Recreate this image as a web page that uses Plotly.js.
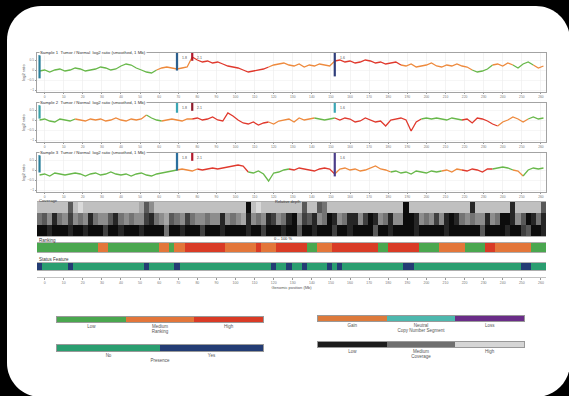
<!DOCTYPE html>
<html><head><meta charset="utf-8">
<script src="https://cdn.plot.ly/plotly-3.0.1.min.js"></script>
<style>html,body{margin:0;padding:0;background:#000;overflow:hidden;width:569px;height:396px;}#chart{width:569px;height:396px;}</style>
</head><body><div id="chart"></div>
<script>
// ---------------- DATA ----------------
const panelTitles = [
  'Sample 1  Tumor / Normal  log2 ratio (smoothed, 1 Mb)',
  'Sample 2  Tumor / Normal  log2 ratio (smoothed, 1 Mb)',
  'Sample 3  Tumor / Normal  log2 ratio (smoothed, 1 Mb)'
];
const tickLabels = ['0','10','20','30','40','50','60','70','80','90','100','110','120','130','140','150','160','170','180','190','200','210','220','230','240','250','260'];

const panel1 = [-0.05,0,-0.1,0,0.05,-0.05,0,0.1,0.05,-0.05,0,0.05,0.15,0.1,0,0.05,0.2,0.3,0.25,0.1,0,-0.1,-0.15,
  0,0.1,0.15,0.1,0.05,0.1,0.15,
  0.65,0.5,0.4,0.45,0.35,0.4,0.3,
  0.2,0.15,0.1,0,-0.1,-0.05,0,0.05,
  0.15,0.25,0.3,0.35,
  0.25,0.2,0.3,0.15,0.25,0.2,0.3,0.25,0.2,
  0.45,0.5,0.4,0.45,0.35,0.4,0.5,0.45,0.35,0.4,0.3,0.35,0.4,
  0.25,0.2,0.3,0.15,0.2,0.25,0.35,0.2,0.15,0.25,0.2,0.3,0.2,0.15,
  0,-0.1,-0.05,0.05,
  0.25,0.3,0.2,0.35,0.25,0.1,0.3,0.4,0.25,0.1,0.2];
const panel1Classes = [[0,0],[23,1],[30,2],[45,1],[58,2],[71,1],[85,0],[89,1],[93,0],[97,1]];

const panel2 = [0,0.05,-0.05,-0.1,0.05,0,-0.05,
  0.05,0,-0.05,0.05,0,0.05,-0.05,0,0.1,0,-0.05,0.05,0,0.05,
  0.25,0.1,0,
  -0.05,0,0.05,0,-0.05,0.05,
  0.05,0.1,0,0.05,0.15,0,-0.05,0.35,0.2,0,-0.15,-0.2,-0.1,-0.25,-0.15,
  -0.1,-0.2,-0.05,0,0.05,-0.1,0.1,0,0.05,
  0.1,0.05,0,0.05,
  0.1,0,0.1,0.05,-0.1,-0.05,0.1,0,-0.1,-0.05,-0.3,
  0,0.05,0.1,0,-0.55,-0.1,
  0.05,0.1,0.05,0.1,0.05,0,0.1,0.05,
  0,0.05,-0.15,0.1,0.05,-0.05,-0.2,-0.3,-0.1,0,0.15,0.05,-0.1,
  0.05,0.15,0.05,0.1];
const panel2Classes = [[0,0],[7,1],[21,0],[24,1],[30,2],[45,1],[54,0],[58,2],[75,0],[83,2],[90,1],[96,0]];

const panel3 = [-0.25,-0.2,-0.3,-0.15,-0.2,-0.25,-0.2,-0.15,-0.2,-0.3,-0.2,-0.15,-0.25,-0.2,-0.1,-0.2,-0.25,-0.2,-0.3,-0.2,-0.15,-0.25,-0.3,-0.2,-0.15,-0.1,-0.05,
  0,0.05,0,-0.05,0.05,0,0.05,0.1,0.05,0.1,
  0.15,0.2,0.25,0.2,
  -0.1,-0.15,-0.05,-0.2,-0.55,-0.15,-0.1,0,
  0.05,0,0.1,0.05,0,-0.05,0.05,0.1,0.05,
  -0.2,
  0.05,0.1,0,0.05,-0.05,0,0.1,0.2,0.05,0,
  -0.1,-0.05,-0.15,-0.1,-0.2,-0.05,-0.1,-0.15,-0.05,-0.1,
  -0.05,0,-0.1,0.05,0,-0.05,0.05,0,-0.1,0.05,
  0.05,0.1,0.15,0.1,0,-0.05,-0.3,0,0.1,0.05,0.1];
const panel3Classes = [[0,0],[27,1],[31,2],[41,0],[49,2],[58,1],[69,0],[79,1],[83,2],[89,0],[93,1],[95,0]];

const breakpointBins = [0,27,30,58];

const coverageTop = [2,2,2,2,2,2,6,2,1,2, 2,2,2,2,2,2,2,2,2,2, 3,6,4,2,2,2,2,2,2,2, 2,2,2,2,2,2,2,2,2,2,
  2,9,2,1,2,2,2,2,2,2, 2,2,6,2,2,6,5,2,2,2, 2,2,2,2,2,2,2,2,2,2, 2,2,9,2,2,2,2,2,2,2,
  2,2,2,2,2,8,2,2,2,2, 2,2,2,8,2,2,2,2,2,6];
const coverageMid = [5,6,4,8,5,4,7,4,5,4, 8,5,4,4,6,8,5,4,5,4, 4,7,8,5,4,3,6,5,4,7, 5,4,4,5,4,4,8,4,5,4,
  3,8,4,5,4,8,7,4,5,8, 9,4,7,6,8,4,5,9,8,4, 5,8,8,4,7,9,8,4,5,8, 4,4,9,9,8,4,5,4,7,4,
  8,9,8,5,4,5,4,4,8,4, 5,9,9,8,4,6,9,8,5,8];
const coverageBot = [9,9,8,9,9,9,8,9,9,8, 9,9,9,7,9,9,8,9,9,9, 8,9,9,9,9,5,9,9,8,9, 9,9,7,9,9,9,8,9,9,9,
  9,8,9,9,7,9,9,9,8,9, 9,6,9,9,8,9,9,9,7,9, 9,8,9,9,9,9,6,9,9,8, 9,9,9,9,8,9,9,9,9,9,
  8,9,9,9,9,9,9,6,9,9, 9,9,8,9,9,7,6,9,9,8];

const ranking = [0,0,0,0,0,0,0,0,0,0,0,0, 1,1, 0,0,0,0,0,0,0,0,0,0, 1,1, 0, 1,1,
  2,2,2,2,2,2,2,2, 1,1,1,1,1,1, 2, 1,1,1, 2,2,2,2,2,2, 0,0, 1,1,1,
  2,2,2,2,2,2,2,2,2, 0,0, 2,2,2,2,2,2, 0,0,0,0, 1,1,1,1,1, 0,0,0,0, 2,2, 1,1,1,1,1,1,1, 0,0,0];
const status = [1,0,0,0,0,0,1,0,0,0, 0,0,0,0,0,0,0,0,0,0, 0,1,0,0,0,0,0,1,0,0, 0,0,0,0,0,0,0,0,0,0,
  0,0,0,0,0,0,1,0,0,1, 0,0,1,0,0,0,0,1,0,1, 0,0,0,0,0,0,0,0,0,0, 0,0,1,1,0,0,0,0,0,0,
  0,0,0,0,0,0,0,0,0,0, 0,0,0,0,0,1,1,0,0,0];

const rankingLevels = ['Low','Medium','High'];
const presenceLevels = ['No','Yes'];
const segmentLevels = ['Gain','Neutral','Loss'];
const coverageLevels = ['Low','Medium','High'];

// ---------------- STYLE / BUILD ----------------
const W=569,H=396;
const PX=x=>x/W, PY=y=>1-y/H;
const FONT='Liberation Sans, Arial, sans-serif';
const lineColors=['#68b84a','#ee8a3d','#e0392d'];
const rankColors=['#4aa74f','#e3763a','#d93b26'];
const statusColors=['#2a9e70','#233c74'];
const segColors=['#dd7a3b','#4db8ae','#6a2d88'];
const covColors=['#1c1c1c','#6f6f6f','#d6d6d6'];
const bins = panel1.map((_,i)=>i);
const tickPos = tickLabels.map((_,k)=>1+k*3.75);

function disc(cols){
  const n=cols.length, s=[];
  cols.forEach((c,k)=>{s.push([k/n,c]);s.push([(k+1)/n,c]);});
  return s;
}
function segTraces(vals, runs, xa, ya){
  const out=[];
  runs.forEach((r,k)=>{
    const s=r[0], e=(k+1<runs.length)?runs[k+1][0]:vals.length-1;
    out.push({type:'scatter',mode:'lines',xaxis:xa,yaxis:ya,
      x:bins.slice(s,e+1), y:vals.slice(s,e+1),
      line:{color:lineColors[r[1]],width:1.3}, hoverinfo:'skip', showlegend:false});
  });
  return out;
}

const traces=[];
traces.push(...segTraces(panel1,panel1Classes,'x','y'));
traces.push(...segTraces(panel2,panel2Classes,'x2','y2'));
traces.push(...segTraces(panel3,panel3Classes,'x3','y3'));
traces.push({type:'heatmap',xaxis:'x4',yaxis:'y4',z:[coverageTop,coverageMid,coverageBot],
  zmin:0,zmax:9,colorscale:[[0,'#f4f4f4'],[1,'#0c0c0c']],showscale:false,hoverinfo:'skip'});
traces.push({type:'heatmap',xaxis:'x5',yaxis:'y5',z:[ranking],zmin:-0.5,zmax:2.5,
  colorscale:disc(rankColors),showscale:false,hoverinfo:'skip'});
traces.push({type:'heatmap',xaxis:'x6',yaxis:'y6',z:[status],zmin:-0.5,zmax:1.5,
  colorscale:disc(statusColors),showscale:false,hoverinfo:'skip'});
traces.push({type:'scatter',mode:'lines',xaxis:'x7',yaxis:'y7',x:[bins[0],bins[bins.length-1]],y:[0,0],
  line:{width:0},opacity:0,hoverinfo:'skip',showlegend:false});
[[rankingLevels,rankColors,'x8','y8'],[presenceLevels,statusColors,'x9','y9'],
 [segmentLevels,segColors,'x10','y10'],[coverageLevels,covColors,'x11','y11']].forEach(([lv,cols,xa,ya])=>{
  traces.push({type:'heatmap',xaxis:xa,yaxis:ya,x:lv,z:[lv.map((_,k)=>k)],zmin:-0.5,zmax:cols.length-0.5,
    colorscale:disc(cols),showscale:false,hoverinfo:'skip'});
});

const xDom=[PX(37),PX(546)];
const panelX = {domain:xDom,range:[-0.5,99.5],showline:true,mirror:true,linecolor:'#8c8c8c',linewidth:0.8,
  zeroline:false,showgrid:true,gridcolor:'#e8e8e8',gridwidth:0.5,tickmode:'array',tickvals:tickPos,ticktext:tickLabels,
  ticks:'outside',ticklen:1.5,tickcolor:'#9a9a9a',tickfont:{size:3.3,color:'#777'}};
const panelY = (a,top,bot)=>({domain:[PY(bot),PY(top)],anchor:a,range:[-1.1,0.85],showline:true,mirror:true,
  linecolor:'#8c8c8c',linewidth:0.8,zeroline:false,showgrid:true,gridcolor:'#eeeeee',gridwidth:0.5,
  tickvals:[-1,-0.5,0,0.5],ticks:'outside',ticklen:1.5,tickcolor:'#9a9a9a',tickfont:{size:3.3,color:'#777'},
  title:{text:'log2 ratio',font:{size:4,color:'#555'},standoff:2}});
const bandX = (a)=>({domain:xDom,anchor:a,range:[-0.5,99.5],showline:true,mirror:true,linecolor:'#777',linewidth:0.6,
  showgrid:false,zeroline:false,showticklabels:false,ticks:''});
const bandY = (a,top,bot,rng)=>({domain:[PY(bot),PY(top)],anchor:a,range:rng,showline:false,showgrid:false,zeroline:false,
  showticklabels:false,ticks:''});
const legX = (a,x0,x1,title)=>({domain:[PX(x0),PX(x1)],anchor:a,type:'category',showline:true,mirror:true,
  linecolor:'#555',linewidth:0.6,showgrid:false,zeroline:false,ticks:'',tickfont:{size:4.5,color:'#555'},
  title:{text:title,font:{size:4.5,color:'#555'},standoff:1}});
const legY = (a,top,bot)=>({domain:[PY(bot),PY(top)],anchor:a,showline:true,mirror:true,linecolor:'#555',linewidth:0.6,
  showgrid:false,zeroline:false,showticklabels:false,ticks:''});

const r=34,c=0.5523*r, L=7,T=6,R=570,B=397;
const P=(x,y)=>PX(x)+','+PY(y);
const frame='M'+P(L+r,T)+' L'+P(R-r,T)+' C'+P(R-r+c,T)+' '+P(R,T+r-c)+' '+P(R,T+r)+
  ' L'+P(R,B-r)+' C'+P(R,B-r+c)+' '+P(R-r+c,B)+' '+P(R-r,B)+
  ' L'+P(L+r,B)+' C'+P(L+r-c,B)+' '+P(L,B-r+c)+' '+P(L,B-r)+
  ' L'+P(L,T+r)+' C'+P(L,T+r-c)+' '+P(L+r-c,T)+' '+P(L+r,T)+' Z';

const shapes=[{type:'path',path:frame,xref:'paper',yref:'paper',fillcolor:'#ffffff',line:{width:0},layer:'below'}];
const markerStyle=[
  [[0.35,0.95,'#2a7f9b'],[0.55,1,'#2b5f8e'],[0.8,1,'#b2182b'],[0.4,1,'#2f3d7a']],
  [[0.6,0.95,'#3aa0a8'],[0.75,1,'#3aa6b5'],[0.8,1,'#8e1b2b'],[0.75,1,'#3aa6b5']],
  [[0.5,0.95,'#2a7f9b'],[0.55,1,'#2b6f9e'],[0.8,1,'#b2182b'],[0.4,1,'#4a3d8a']]];
const annotations=[];
['','2','3'].forEach((s,p)=>{
  breakpointBins.forEach((b,k)=>{
    const m=markerStyle[p][k];
    shapes.push({type:'line',xref:'x'+s,yref:'y'+s+' domain',x0:b,x1:b,y0:m[0],y1:m[1],line:{color:m[2],width:2.2}});
  });
  [[27,'1.8'],[30,'2.1'],[58,'1.6']].forEach(([b,t])=>annotations.push({xref:'x'+s,yref:'y'+s+' domain',x:b+0.6,y:0.97,
    text:t,showarrow:false,xanchor:'left',yanchor:'top',font:{size:3.5,color:'#555'}}));
});
const tops=[53,103,153];
panelTitles.forEach((t,p)=>annotations.push({xref:'paper',yref:'paper',x:PX(39),y:PY(tops[p]-0.5),text:t,showarrow:false,
  xanchor:'left',yanchor:'middle',font:{size:4.3,color:'#333'},bgcolor:'#ffffff',borderpad:0}));
const lab=(x,y,t,anc,sz)=>annotations.push({xref:'paper',yref:'paper',x:PX(x),y:PY(y),text:t,showarrow:false,
  xanchor:anc||'left',yanchor:'middle',font:{size:sz||4.5,color:'#333'}});
lab(37,200.3,'Coverage','left',4.2);
lab(288,201,'Relative depth','center',4);
lab(283,238,'0 – 100 %','center',4);
lab(37,240,'Ranking');
lab(37,259,'Status Feature');

const layout={
  width:W,height:H,margin:{l:0,r:0,t:0,b:0},paper_bgcolor:'#000000',plot_bgcolor:'rgba(0,0,0,0)',
  font:{family:FONT,color:'#444'},showlegend:false,hovermode:false,
  xaxis:Object.assign({anchor:'y'},panelX), yaxis:panelY('x',53,92),
  xaxis2:Object.assign({anchor:'y2'},panelX), yaxis2:panelY('x2',103,142),
  xaxis3:Object.assign({anchor:'y3'},panelX), yaxis3:panelY('x3',153,192),
  xaxis4:bandX('y4'), yaxis4:bandY('x4',202,236,[2.5,-0.5]),
  xaxis5:bandX('y5'), yaxis5:bandY('x5',243,252,[-0.5,0.5]),
  xaxis6:bandX('y6'), yaxis6:bandY('x6',263,270,[-0.5,0.5]),
  xaxis7:{domain:xDom,anchor:'y7',range:[-0.5,99.5],showline:true,linecolor:'#999',linewidth:0.6,showgrid:false,zeroline:false,
    tickmode:'array',tickvals:tickPos,ticktext:tickLabels,ticks:'outside',ticklen:2,tickcolor:'#999',tickfont:{size:3.5,color:'#777'},
    title:{text:'Genomic position (Mb)',font:{size:4,color:'#555'},standoff:1}},
  yaxis7:{domain:[PY(277),PY(276)],anchor:'x7',visible:false},
  xaxis8:legX('y8',57,263,'Ranking'), yaxis8:legY('x8',317,322),
  xaxis9:legX('y9',57,263,'Presence'), yaxis9:legY('x9',345,351),
  xaxis10:legX('y10',318,524,'Copy Number Segment'), yaxis10:legY('x10',316,321),
  xaxis11:legX('y11',318,524,'Coverage'), yaxis11:legY('x11',342,347),
  shapes:shapes, annotations:annotations
};
Plotly.newPlot('chart',traces,layout,{staticPlot:true,displayModeBar:false});
</script></body></html>
